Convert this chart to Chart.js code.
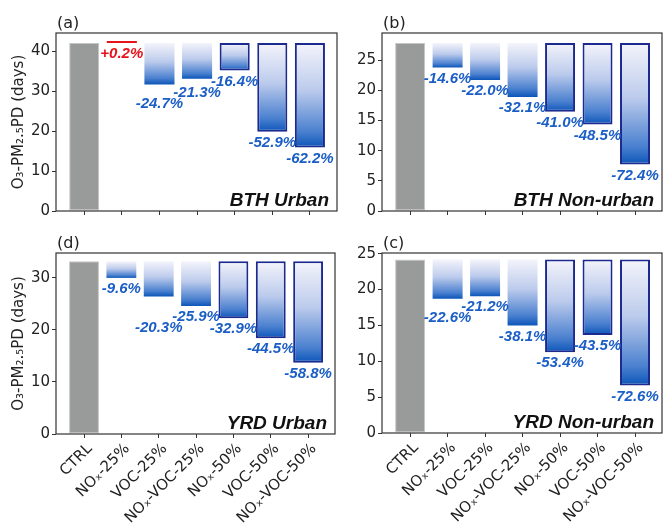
<!DOCTYPE html>
<html>
<head>
<meta charset="utf-8">
<script src="https://cdn.jsdelivr.net/npm/chart.js@4/dist/chart.umd.min.js"></script>
<style>
  html, body { margin: 0; padding: 0; background: #fff; }
  body { width: 663px; height: 523px; position: relative; overflow: hidden; }
  .panel { position: absolute; }
</style>
</head>
<body>
<div class="panel" style="left:0;top:0;width:340px;height:222px"><canvas id="panelA"></canvas></div>
<div class="panel" style="left:340px;top:0;width:323px;height:222px"><canvas id="panelB"></canvas></div>
<div class="panel" style="left:0;top:220px;width:340px;height:303px"><canvas id="panelD"></canvas></div>
<div class="panel" style="left:340px;top:220px;width:323px;height:303px"><canvas id="panelC"></canvas></div>
<script>
/*--data--*/
var scenarios = ['CTRL', 'NOₓ-25%', 'VOC-25%', 'NOₓ-VOC-25%', 'NOₓ-50%', 'VOC-50%', 'NOₓ-VOC-50%'];

// CTRL days per panel (a, b, d, c)
var ctrlBTHUrban = 42.1;
var ctrlBTHNonUrban = 27.85;
var ctrlYRDUrban = 33.2;
var ctrlYRDNonUrban = 24.2;

// % change vs CTRL for the six reduction scenarios
var pctBTHUrban = [0.2, -24.7, -21.3, -16.4, -52.9, -62.2];
var pctBTHNonUrban = [-14.6, -22.0, -32.1, -41.0, -48.5, -72.4];
var pctYRDUrban = [-9.6, -20.3, -25.9, -32.9, -44.5, -58.8];
var pctYRDNonUrban = [-22.6, -21.2, -38.1, -53.4, -43.5, -72.6];

// y axis ranges / ticks
var yMaxBTHUrban = 44.6, yStepBTHUrban = 10;
var yMaxBTHNonUrban = 29.5, yStepBTHNonUrban = 5;
var yMaxYRDUrban = 34.8, yStepYRDUrban = 10;
var yMaxYRDNonUrban = 25.1, yStepYRDNonUrban = 5;

var GRAY = '#999b9a';
var NAVY = '#1c2a90';
var LABEL_BLUE = '#1a5ec6';
var LABEL_RED = '#e8121b';
var AXIS = '#333333';

function barFill(ctx) {
  if (ctx.type !== 'data') return GRAY;
  if (ctx.dataIndex === 0) return GRAY;
  var raw = ctx.raw;
  if (raw.pct > 0) return LABEL_RED;
  var y = ctx.chart.scales.y;
  if (!y || !ctx.chart.chartArea) return '#7fa3d8';
  var top = y.getPixelForValue(raw.y[1]);
  var bot = y.getPixelForValue(raw.y[0]);
  var g = ctx.chart.ctx.createLinearGradient(0, top, 0, bot);
  g.addColorStop(0, '#f4f4fb');
  g.addColorStop(0.45, '#bccbec');
  g.addColorStop(0.85, '#4a80cf');
  g.addColorStop(1, '#0b55b9');
  return g;
}

var panelDecor = {
  id: 'panelDecor',
  afterDatasetsDraw: function (chart, args, opts) {
    var c = chart.ctx, a = chart.chartArea, y = chart.scales.y, x = chart.scales.x;
    var pts = chart.data.datasets[0].data;
    c.save();
    // % labels, right to left so crowded ones get pushed down
    c.font = 'italic bold 15px "Liberation Sans", Arial, sans-serif';
    c.textAlign = 'center';
    c.textBaseline = 'middle';
    var prev = null;
    for (var i = pts.length - 1; i >= 1; i--) {
      var p = pts[i];
      var px = x.getPixelForValue(p.x);
      var py = y.getPixelForValue(p.y[0]) + 11;
      if (prev && Math.abs(py - prev) < 10) py = prev + 11;
      c.fillStyle = p.pct > 0 ? LABEL_RED : LABEL_BLUE;
      var txt = (p.pct > 0 ? '+' : '') + p.pct.toFixed(1) + '%';
      c.fillText(txt, px, py);
      prev = py;
    }
    // frame
    c.strokeStyle = AXIS;
    c.lineWidth = 1.2;
    c.strokeRect(a.left, a.top, a.right - a.left, a.bottom - a.top);
    // region name
    c.fillStyle = '#111';
    c.font = 'italic bold 19px "Liberation Sans", Arial, sans-serif';
    c.textAlign = 'right';
    c.textBaseline = 'alphabetic';
    c.fillText(opts.name, a.right - 8, a.bottom - 5);
    // panel tag
    c.fillStyle = '#222';
    c.font = '16px "DejaVu Sans", sans-serif';
    c.textAlign = 'left';
    c.fillText(opts.tag, a.left + 1, a.top - 5);
    c.restore();
  }
};

function makePanel(id, tag, name, ctrl, pct, yMax, yStep, showX, showTitle, yWidth, xHeight, padRight) {
  var pts = [{x: 0, y: [0, ctrl], pct: 0}];
  for (var i = 0; i < pct.length; i++) {
    var v = ctrl * (1 + pct[i] / 100);
    pts.push({x: i + 1, y: pct[i] > 0 ? [ctrl, v] : [v, ctrl], pct: pct[i]});
  }
  return new Chart(document.getElementById(id), {
    type: 'bar',
    data: {
      datasets: [{
        data: pts,
        backgroundColor: barFill,
        borderColor: function (ctx) {
          if (ctx.dataIndex === 0) return '#c4c6c5';
          if (ctx.raw && ctx.raw.pct > 0) return LABEL_RED;
          return ctx.dataIndex >= 4 ? NAVY : 'rgba(0,0,0,0)';
        },
        borderWidth: function (ctx) {
          if (ctx.dataIndex === 0) return 1;
          if (ctx.raw && ctx.raw.pct > 0) return 0;
          return ctx.dataIndex >= 4 ? 2 : 0;
        },
        borderSkipped: false,
        minBarLength: 2,
        categoryPercentage: 0.8,
        barPercentage: 1.0
      }]
    },
    options: {
      responsive: true,
      maintainAspectRatio: false,
      animation: false,
      layout: { padding: { top: 33, right: padRight, left: 0, bottom: 0 } },
      plugins: {
        legend: { display: false },
        tooltip: { enabled: false },
        panelDecor: { tag: tag, name: name }
      },
      scales: {
        x: {
          type: 'linear',
          offset: false,
          min: -0.75,
          max: 6.72,
          afterBuildTicks: function (s) {
            s.ticks = scenarios.map(function (_, i) { return {value: i}; });
          },
          afterFit: function (s) { s.height = xHeight; },
          border: { display: false },
          grid: { offset: false, drawOnChartArea: false, drawTicks: true, tickLength: 4, tickColor: AXIS },
          ticks: {
            display: showX,
            autoSkip: false,
            maxRotation: 45,
            minRotation: 45,
            padding: 2,
            labelOffset: 6,
            color: '#222',
            font: { family: '"DejaVu Sans", sans-serif', size: 15 },
            callback: function (v) { return scenarios[v]; }
          }
        },
        y: {
          min: 0,
          max: yMax,
          afterFit: function (s) { s.width = yWidth; },
          border: { display: false },
          grid: { drawOnChartArea: false, drawTicks: true, tickLength: 4, tickColor: AXIS },
          title: {
            display: showTitle,
            text: 'O₃-PM₂.₅PD (days)',
            color: '#222',
            font: { family: '"DejaVu Sans", sans-serif', size: 15 },
            padding: { top: 10, bottom: 0 }
          },
          ticks: {
            stepSize: yStep,
            includeBounds: false,
            padding: 2,
            color: '#222',
            font: { family: '"DejaVu Sans", sans-serif', size: 15 }
          }
        }
      }
    },
    plugins: [panelDecor]
  });
}

makePanel('panelA', '(a)', 'BTH Urban', ctrlBTHUrban, pctBTHUrban, yMaxBTHUrban, yStepBTHUrban, false, true, 56, 6, 3);
makePanel('panelB', '(b)', 'BTH Non-urban', ctrlBTHNonUrban, pctBTHNonUrban, yMaxBTHNonUrban, yStepBTHNonUrban, false, false, 42, 6, 1);
makePanel('panelD', '(d)', 'YRD Urban', ctrlYRDUrban, pctYRDUrban, yMaxYRDUrban, yStepYRDUrban, true, true, 56, 89, 5);
makePanel('panelC', '(c)', 'YRD Non-urban', ctrlYRDNonUrban, pctYRDNonUrban, yMaxYRDNonUrban, yStepYRDNonUrban, true, false, 42, 90, 1);
</script>
</body>
</html>
